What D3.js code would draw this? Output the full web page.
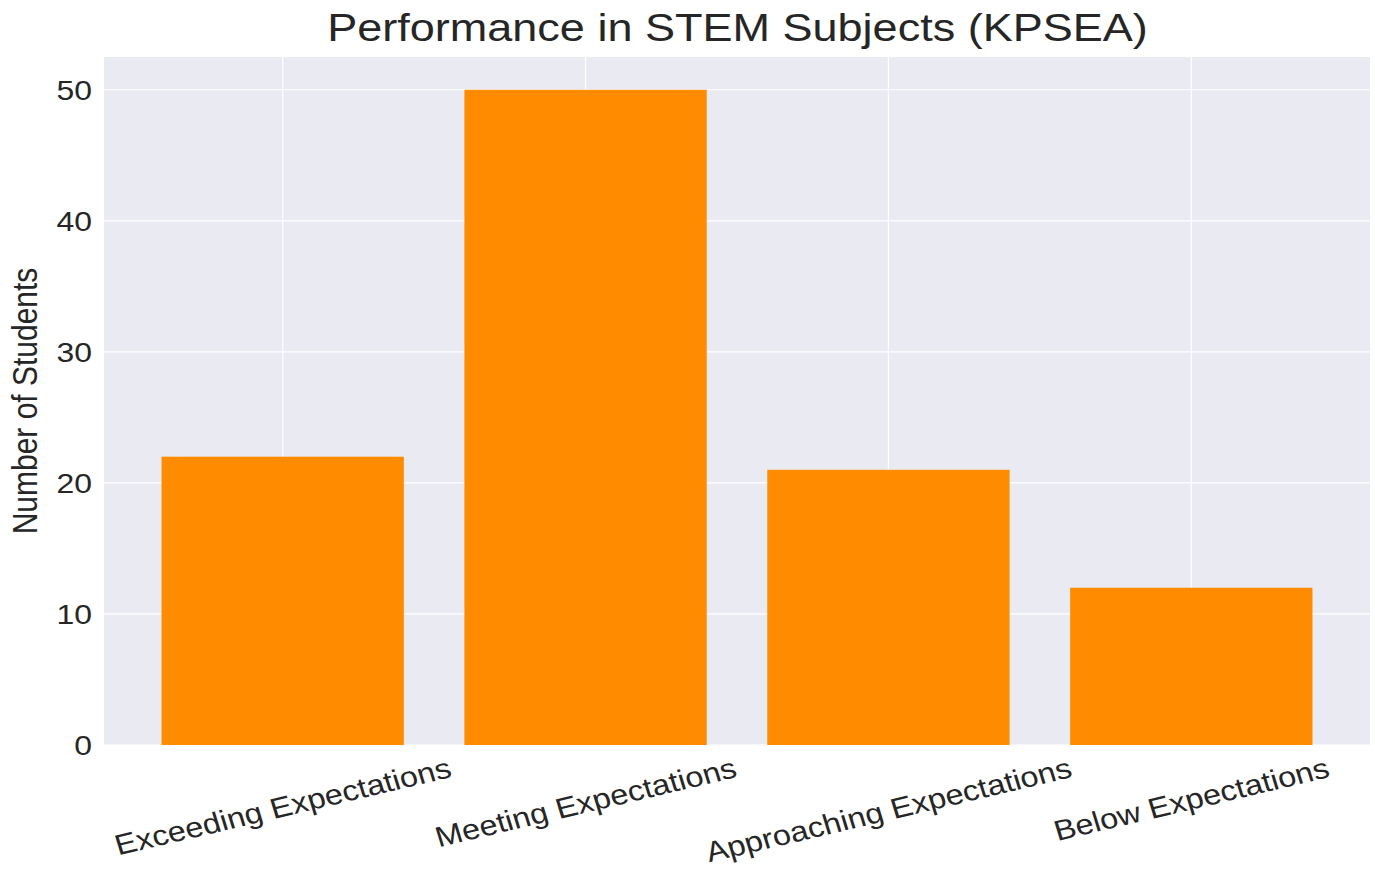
<!DOCTYPE html>
<html>
<head>
<meta charset="utf-8">
<script src="https://cdn.jsdelivr.net/npm/d3@7"></script>
<style>
  body { margin: 0; background: #fff; }
  text { font-family: "Liberation Sans", Arial, sans-serif; fill: #262626; }
</style>
</head>
<body>
<svg id="chart"></svg>
<script>
// chart data
let categories = ['Exceeding Expectations', 'Meeting Expectations', 'Approaching Expectations', 'Below Expectations'];
let students = [22, 50, 21, 12];
let yTicks = [0, 10, 20, 30, 40, 50];

let pageW = 1375, pageH = 869;
// the reference picture is stretched sideways, so draw in narrower units
let stretch = 1.14;
let W = pageW / stretch, H = pageH;

let margin = {top: 57, right: W - 1370 / stretch, bottom: H - 745, left: 104 / stretch};

let svg = d3.select('#chart')
  .attr('width', pageW)
  .attr('height', pageH)
  .attr('viewBox', '0 0 ' + W + ' ' + H)
  .attr('preserveAspectRatio', 'none');

let x = d3.scaleBand()
  .domain(categories)
  .range([margin.left, W - margin.right])
  .paddingInner(0.2)
  .paddingOuter(0.19);

let y = d3.scaleLinear()
  .domain([0, 52.5])
  .range([H - margin.bottom, margin.top]);

// background
svg.append('rect')
  .attr('x', margin.left)
  .attr('y', margin.top)
  .attr('width', W - margin.left - margin.right)
  .attr('height', H - margin.top - margin.bottom)
  .attr('fill', '#eaeaf2');

// grid lines
svg.append('g')
  .selectAll('line')
  .data(yTicks)
  .enter()
  .append('line')
  .attr('x1', margin.left)
  .attr('x2', W - margin.right)
  .attr('y1', (d) => y(d))
  .attr('y2', (d) => y(d))
  .attr('stroke', '#fff')
  .attr('stroke-width', 1.2);

svg.append('g')
  .selectAll('line')
  .data(categories)
  .enter()
  .append('line')
  .attr('x1', (d) => x(d) + x.bandwidth() / 2)
  .attr('x2', (d) => x(d) + x.bandwidth() / 2)
  .attr('y1', margin.top)
  .attr('y2', H - margin.bottom)
  .attr('stroke', '#fff')
  .attr('stroke-width', 1.1);

// bars
svg.append('g')
  .selectAll('rect')
  .data(students)
  .enter()
  .append('rect')
  .attr('x', (d, i) => x(categories[i]))
  .attr('y', (d) => y(d))
  .attr('width', x.bandwidth())
  .attr('height', (d) => y(0) - y(d))
  .attr('fill', '#ff8c00');

// y axis
let yAxis = svg.append('g')
  .attr('transform', 'translate(' + margin.left + ',0)')
  .call(d3.axisLeft(y).tickValues(yTicks).tickSize(0).tickPadding(10.5));
yAxis.select('.domain').remove();
yAxis.selectAll('text')
  .attr('font-size', 28)
  .attr('fill', '#262626')
  .attr('dy', '0.35em');

// x axis labels, rotated 15 degrees
let labelSize = 28.5;
let xLabels = svg.append('g')
  .selectAll('text')
  .data(categories)
  .enter()
  .append('text')
  .attr('font-size', labelSize)
  .attr('text-anchor', 'middle')
  .attr('dominant-baseline', 'central')
  .text((d) => d);

let angle = 15 * Math.PI / 180;
let labelTop = H - margin.bottom + 8;
xLabels.attr('transform', function (d) {
  let len = this.getComputedTextLength();
  let boxH = len * Math.sin(angle) + labelSize * Math.cos(angle);
  let cx = x(d) + x.bandwidth() / 2;
  return 'translate(' + cx + ',' + (labelTop + boxH / 2) + ') rotate(-15)';
});

// y label
svg.append('text')
  .attr('transform', 'translate(' + (25 / stretch) + ',' + ((margin.top + H - margin.bottom) / 2) + ') rotate(-90)')
  .attr('text-anchor', 'middle')
  .attr('dominant-baseline', 'central')
  .attr('font-size', 30)
  .text('Number of Students');

// title
svg.append('text')
  .attr('x', 737.5 / stretch)
  .attr('y', 41)
  .attr('text-anchor', 'middle')
  .attr('font-size', 39.5)
  .text('Performance in STEM Subjects (KPSEA)');
</script>
</body>
</html>
